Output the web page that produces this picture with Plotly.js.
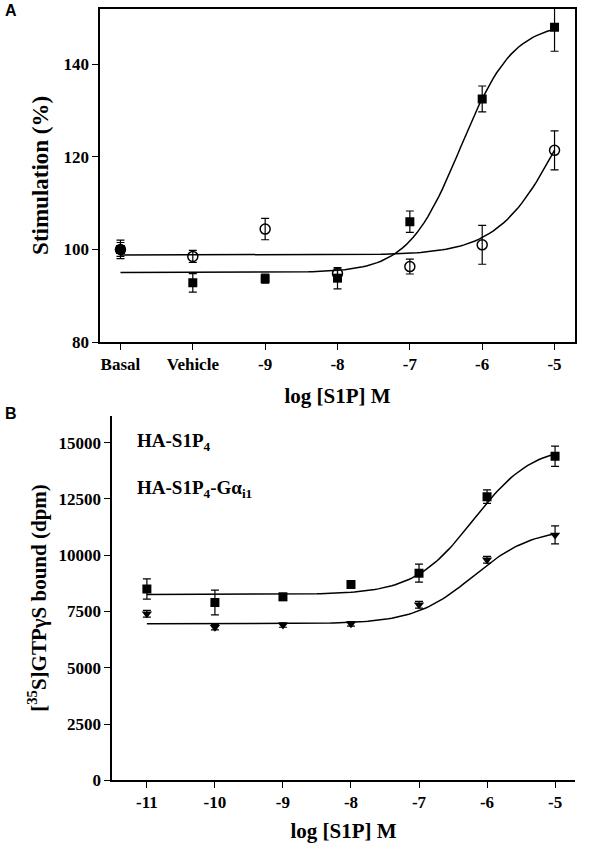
<html><head><script src="https://cdn.plot.ly/plotly-3.0.1.min.js"></script></head>
<body style="margin:0"><div id="myDiv" style="width:600px;height:866px"></div>
<script>
// panel A
var xA = [-11, -10, -9, -8, -7, -6, -5];
var tickA = ['Basal', 'Vehicle', '-9', '-8', '-7', '-6', '-5'];
var filledA = [100, 92.8, 93.7, 93.8, 106, 132.5, 148];
var filledAerr = [2, 2, 1, 2.3, 2.3, 2.8, 5.2];
var openA = [100, 98.5, 104.4, 94.8, 96.3, 101, 121.4];
var openAerr = [1.5, 1.3, 2.3, 1, 1.6, 4.2, 4.2];
// fitted curves (bottom, top, logEC50, slope)
var fitFilledA = [95, 149, -6.3, 1.2];
var fitOpenA = [98.8, 150, -4.9, 1];

// panel B
var xB = [-11, -10, -9, -8, -7, -6, -5];
var tickB = ['-11', '-10', '-9', '-8', '-7', '-6', '-5'];
var yTickB = [0, 2500, 5000, 7500, 10000, 12500, 15000];
var sqB = [8500, 7900, 8150, 8700, 9200, 12600, 14400];
var sqBerr = [450, 550, 150, 150, 400, 300, 450];
var triB = [7400, 6800, 6900, 6950, 7800, 9800, 10900];
var triBerr = [150, 120, 100, 100, 150, 150, 400];
var fitSqB = [8250, 14900, -6.2, 1];
var fitTriB = [6950, 11200, -6.2, 1];

function curve(p, x0, x1){
  var xs = [], ys = [];
  for (var x = x0; x <= x1 + 1e-9; x += 0.05) {
    xs.push(x);
    ys.push(p[0] + (p[1] - p[0]) / (1 + Math.pow(10, p[3] * (p[2] - x))));
  }
  return {x: xs, y: ys};
}

var font = {family: 'Liberation Serif', size: 18, color: 'black'};
var tfont = {family: 'Liberation Serif', size: 17, color: 'black', weight: 'bold'};
var data = [];
var cF = curve(fitFilledA, -11, -5), cO = curve(fitOpenA, -11, -5);
data.push({x: cF.x, y: cF.y, mode: 'lines', line: {color: 'black', width: 1.5}, xaxis: 'x', yaxis: 'y'});
data.push({x: cO.x, y: cO.y, mode: 'lines', line: {color: 'black', width: 1.5}, xaxis: 'x', yaxis: 'y'});
data.push({x: xA, y: filledA, mode: 'markers', marker: {symbol: 'square', size: 9, color: 'black'},
  error_y: {array: filledAerr, color: 'black', width: 4, thickness: 1.2}, xaxis: 'x', yaxis: 'y'});
data.push({x: xA, y: openA, mode: 'markers', marker: {symbol: 'circle-open', size: 10, color: 'black', line: {width: 1.5}},
  error_y: {array: openAerr, color: 'black', width: 4, thickness: 1.2}, xaxis: 'x', yaxis: 'y'});

var cS = curve(fitSqB, -11, -5), cT = curve(fitTriB, -11, -5);
data.push({x: cS.x, y: cS.y, mode: 'lines', line: {color: 'black', width: 1.5}, xaxis: 'x2', yaxis: 'y2'});
data.push({x: cT.x, y: cT.y, mode: 'lines', line: {color: 'black', width: 1.5}, xaxis: 'x2', yaxis: 'y2'});
data.push({x: xB, y: sqB, mode: 'markers', marker: {symbol: 'square', size: 9, color: 'black'},
  error_y: {array: sqBerr, color: 'black', width: 4, thickness: 1.2}, xaxis: 'x2', yaxis: 'y2'});
data.push({x: xB, y: triB, mode: 'markers', marker: {symbol: 'triangle-down', size: 9, color: 'black'},
  error_y: {array: triBerr, color: 'black', width: 4, thickness: 1.2}, xaxis: 'x2', yaxis: 'y2'});

var ax = {showline: true, linecolor: 'black', linewidth: 1.5, ticks: 'outside', ticklen: 6, tickcolor: 'black',
  showgrid: false, zeroline: false, tickfont: tfont};
var layout = {
  width: 600, height: 866, showlegend: false,
  margin: {l: 0, r: 0, t: 0, b: 0},
  paper_bgcolor: 'white', plot_bgcolor: 'white',
  font: font,
  xaxis: Object.assign({}, ax, {domain: [0.167, 0.958], range: [-11.28, -4.72], tickvals: xA, ticktext: tickA,
    mirror: true, anchor: 'y',
    title: {text: '<b>log [S1P] M</b>', font: {family: 'Liberation Serif', size: 21}, standoff: 15}}),
  yaxis: Object.assign({}, ax, {domain: [0.605, 0.99], range: [80, 152], tickvals: [80, 100, 120, 140],
    mirror: true, anchor: 'x',
    title: {text: '<b>Stimulation (%)</b>', font: {family: 'Liberation Serif', size: 23}, standoff: 8}}),
  xaxis2: Object.assign({}, ax, {domain: [0.187, 0.958], range: [-11.51, -4.71], tickvals: xB, ticktext: tickB, anchor: 'y2',
    title: {text: '<b>log [S1P] M</b>', font: {family: 'Liberation Serif', size: 21}, standoff: 12}}),
  yaxis2: Object.assign({}, ax, {domain: [0.099, 0.52], range: [0, 16200], tickvals: yTickB,
    ticktext: yTickB.map(String), anchor: 'x2',
    title: {text: '<b>[<sup>35</sup>S]GTPγS bound (dpm)</b>', font: {family: 'Liberation Serif', size: 21}, standoff: 6}}),
  annotations: [
    {text: '<b>A</b>', x: 0.005, y: 1.0, xref: 'paper', yref: 'paper', xanchor: 'left', yanchor: 'top', showarrow: false,
      font: {family: 'Liberation Sans', size: 16}},
    {text: '<b>B</b>', x: 0.005, y: 0.535, xref: 'paper', yref: 'paper', xanchor: 'left', yanchor: 'top', showarrow: false,
      font: {family: 'Liberation Sans', size: 16}},
    {text: '<b>HA-S1P<sub>4</sub></b>', x: 0.225, y: 0.49, xref: 'paper', yref: 'paper', xanchor: 'left', showarrow: false,
      font: {family: 'Liberation Serif', size: 19}},
    {text: '<b>HA-S1P<sub>4</sub>-Gα<sub>i1</sub></b>', x: 0.225, y: 0.435, xref: 'paper', yref: 'paper', xanchor: 'left', showarrow: false,
      font: {family: 'Liberation Serif', size: 19}}
  ]
};
Plotly.newPlot('myDiv', data, layout, {displayModeBar: false});
</script></body></html>
